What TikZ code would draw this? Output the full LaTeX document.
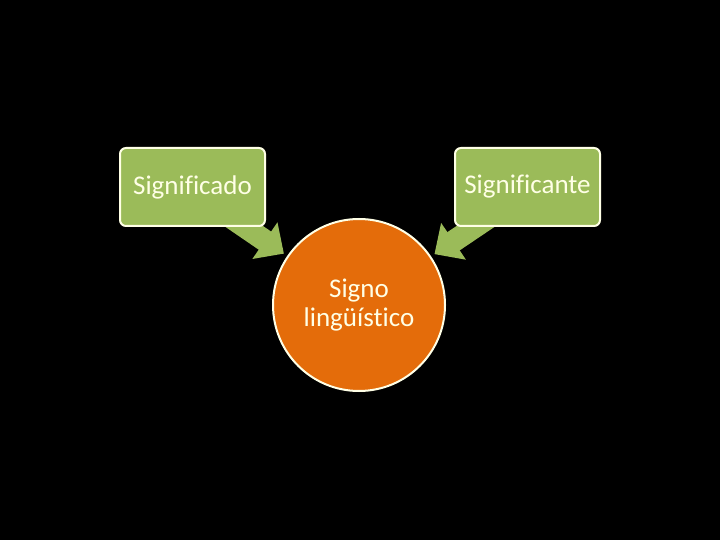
\documentclass[tikz,border=0pt]{standalone}
\usepackage{fontspec}
\setmainfont{Carlito}[Ligatures=NoCommon]
\usetikzlibrary{arrows.meta,backgrounds,calc}
\definecolor{boxgreen}{HTML}{9BBB59}
\definecolor{circorange}{HTML}{E46C0A}
\definecolor{txtcol}{HTML}{FFFFE6}
\begin{document}
\begin{tikzpicture}[x=1bp,y=-1bp,
  gbox/.style={draw=txtcol,line width=2bp,fill=boxgreen,rounded corners=6bp,
    minimum width=145bp,minimum height=78bp,inner sep=0pt,text=txtcol,
    font=\fontsize{27bp}{30bp}\selectfont},
  ocirc/.style={circle,draw=txtcol,line width=2bp,fill=circorange,minimum size=172bp,
    inner sep=0pt,text=txtcol,align=center,font=\fontsize{27bp}{29bp}\selectfont},
  blockarrow/.style={draw=boxgreen,line width=22bp,-{Triangle[length=23bp,width=43bp]}}]
\useasboundingbox (0,0) rectangle (720,540);
\node[gbox] (box1) at (192.5,187) {Significado};
\node[gbox] (box2) at (527.5,187) {Significante};
\node[ocirc] (circ) at (359,305) {Signo\\lingüístico};
\begin{pgfonlayer}{background}
\fill[black] (0,0) rectangle (720,540);
\coordinate (s1) at ([xshift=33.5bp,yshift=-27bp]box1.center);
\coordinate (s2) at ([xshift=-33.5bp,yshift=-27bp]box2.center);
\coordinate (t1) at ($(circ.center)!91bp!(s1)$);
\coordinate (t2) at ($(circ.center)!91bp!(s2)$);
\draw[blockarrow] (s1) -- (t1);
\draw[blockarrow] (s2) -- (t2);
\end{pgfonlayer}
\end{tikzpicture}
\end{document}
